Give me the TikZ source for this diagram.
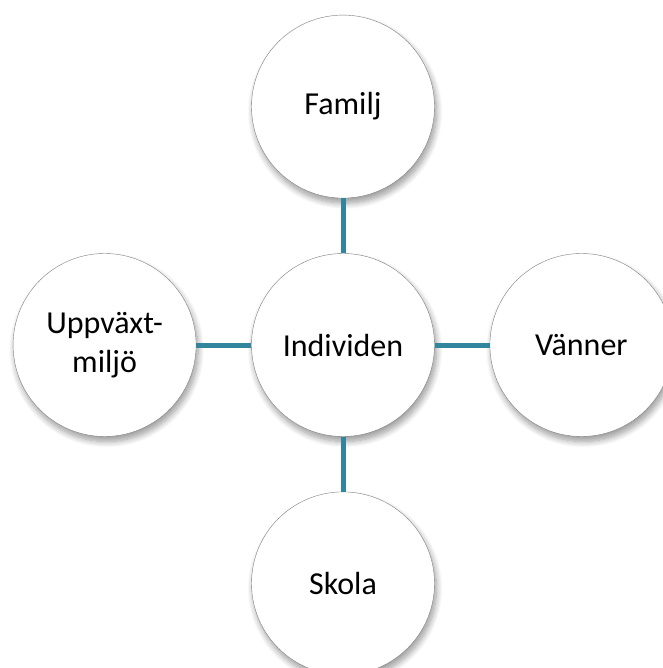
\documentclass[tikz,border=0pt]{standalone}
\usepackage{fontspec}
\setmainfont{Carlito}
\usetikzlibrary{positioning, shadows.blur}

\definecolor{linkteal}{RGB}{49,133,156}

\tikzset{
    bubble/.style={circle, draw=gray, fill=white, thin, minimum size=183pt,
        inner sep=0pt, align=center, font=\fontsize{32}{39}\selectfont,
        blur shadow={shadow xshift=2pt, shadow yshift=-5pt, shadow blur steps=10,
        shadow blur radius=6pt, shadow opacity=40}},
    link/.style={draw=linkteal, line width=5pt}
}

\begin{document}
\begin{tikzpicture}[node distance=55pt]
        \useasboundingbox (0,0) rectangle (662pt,-668pt);
        \node [bubble] (ind) at (343pt,-345pt) {Individen};
        \node [bubble, above=of ind] (fam) {Familj};
        \node [bubble, below=of ind] (sko) {Skola};
        \node [bubble, left=of ind] (upp) {Uppväxt-\\miljö};
        \node [bubble, right=of ind] (van) {Vänner};
        \draw [link] (ind) -- (fam);
        \draw [link] (ind) -- (sko);
        \draw [link] (ind) -- (upp);
        \draw [link] (ind) -- (van);
    \end{tikzpicture}
\end{document}
